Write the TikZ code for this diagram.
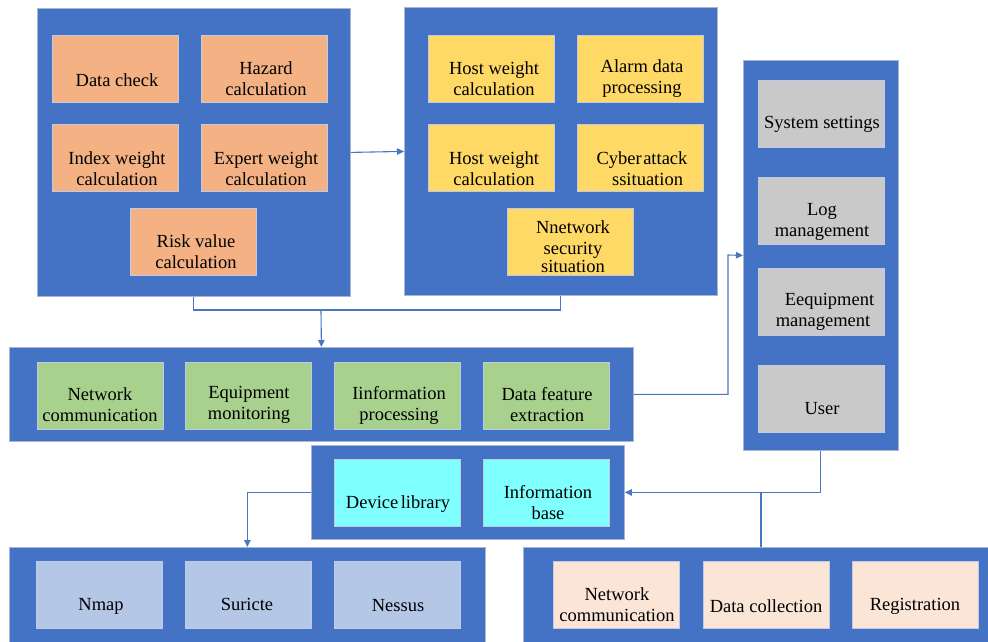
\documentclass[tikz,border=0pt]{standalone}
\usepackage{fontspec}
\setmainfont{Liberation Serif}
\newfontfamily\capfont{Liberation Serif}
\usetikzlibrary{arrows.meta}

\definecolor{panelblue}{HTML}{4472C4}
\definecolor{paneledge}{HTML}{A7B7D3}
\definecolor{boxedge}{HTML}{BFCBE3}
\definecolor{linkblue}{HTML}{4A76C6}
\definecolor{orangefill}{HTML}{F4B183}
\definecolor{yellowfill}{HTML}{FFD966}
\definecolor{greyfill}{HTML}{C9C9C9}
\definecolor{greenfill}{HTML}{A9D18E}
\definecolor{cyanfill}{HTML}{80FFFF}
\definecolor{lightbluefill}{HTML}{B4C7E7}
\definecolor{peachfill}{HTML}{FBE5D6}

\begin{document}
\begin{tikzpicture}[x=1pt,y=-1pt,
  panel/.style={draw=paneledge, fill=panelblue, line width=0.8pt, inner sep=0pt, anchor=north west},
  cell/.style={draw=boxedge, line width=0.6pt, inner sep=0pt, anchor=north west,
               minimum width=126pt, minimum height=67pt},
  caption/.style={inner sep=0pt, align=center, text=black,
                  font=\capfont\fontsize{18.5}{21}\selectfont},
  conn/.style={draw=linkblue, line width=1.1pt},
  arr/.style={conn, -{Triangle[length=7pt,width=6.5pt]}}
]
\useasboundingbox (0,0) rectangle (988,641);

% ---- outer panels ----
\node[panel, minimum width=313pt, minimum height=288pt] (pA) at (37,8) {};
\node[panel, minimum width=313pt, minimum height=288pt] (pB) at (404,7) {};
\node[panel, minimum width=155pt, minimum height=390pt] (pC) at (743,60) {};
\node[panel, minimum width=624pt, minimum height=94pt]  (pD) at (9,347) {};
\node[panel, minimum width=313pt, minimum height=94pt]  (pE) at (311,445) {};
\node[panel, minimum width=476pt, minimum height=104pt] (pF) at (9,547) {};
\node[panel, minimum width=475pt, minimum height=104pt] (pG) at (523,547) {};

% ---- risk assessment cells ----
\node[cell, fill=orangefill] (a1) at (52,35) {};
\node[cell, fill=orangefill] (a2) at (201,35) {};
\node[cell, fill=orangefill] (a3) at (52,124) {};
\node[cell, fill=orangefill] (a4) at (201,124) {};
\node[cell, fill=orangefill] (a5) at (130,208) {};
\node[caption] (ta1) at (117,80) {Data check};
\node[caption] (ta2) at (266,79) {Hazard\\calculation};
\node[caption] (ta3) at (117,169) {Index weight\\calculation};
\node[caption] (ta4) at (266,169) {Expert weight\\calculation};
\node[caption] (ta5) at (196,252) {Risk value\\calculation};

% ---- situation cells ----
\node[cell, fill=yellowfill] (b1) at (428,35) {};
\node[cell, fill=yellowfill] (b2) at (577,35) {};
\node[cell, fill=yellowfill] (b3) at (428,124) {};
\node[cell, fill=yellowfill] (b4) at (577,124) {};
\node[cell, fill=yellowfill] (b5) at (507,208) {};
\node[caption] (tb1) at (494,79) {Host weight\\calculation};
\node[caption] (tb2) at (642,79) {Alarm data\\processing};
\node[caption] (tb3) at (494,169) {Host weight\\calculation};
\node[caption] (tb4) at (642,169) {Cyber\hspace{0.08em}attack\\\hspace{0.6em}ssituation};
\node[caption] (tb5) at (573,247) {Nnetwork\\security\\[-3pt]situation};

% ---- management cells ----
\node[cell, fill=greyfill] (c1) at (758,80) {};
\node[cell, fill=greyfill] (c2) at (758,177) {};
\node[cell, fill=greyfill] (c3) at (758,268) {};
\node[cell, fill=greyfill] (c4) at (758,365) {};
\node[caption] (tc1) at (822,124) {System settings};
\node[caption] (tc2) at (822,222) {Log\\management};
\node[caption] (tc3) at (823,312) {\hspace{0.7em}Eequipment\\management};
\node[caption] (tc4) at (822,409) {User};

% ---- middle layer cells ----
\node[cell, fill=greenfill] (d1) at (37,362) {};
\node[cell, fill=greenfill] (d2) at (185,362) {};
\node[cell, fill=greenfill] (d3) at (334,362) {};
\node[cell, fill=greenfill] (d4) at (483,362) {};
\node[caption] (td1) at (100,405) {Network\\communication};
\node[caption] (td2) at (249,405) {Equipment\\monitoring};
\node[caption] (td3) at (399,405) {Iinformation\\processing};
\node[caption] (td4) at (547,405) {Data feature\\extraction};

% ---- storage cells ----
\node[cell, fill=cyanfill] (e1) at (334,459) {};
\node[cell, fill=cyanfill] (e2) at (483,459) {};
\node[caption] (te1) at (398,504) {Device\hspace{-0.12em} library};
\node[caption] (te2) at (548,503) {Information\\base};

% ---- tool cells ----
\node[cell, fill=lightbluefill] (f1) at (36,561) {};
\node[cell, fill=lightbluefill] (f2) at (185,561) {};
\node[cell, fill=lightbluefill] (f3) at (334,561) {};
\node[caption] (tf1) at (101,606) {Nmap};
\node[caption] (tf2) at (247,604) {Suricte};
\node[caption] (tf3) at (398,606) {Nessus};

% ---- collection cells ----
\node[cell, fill=peachfill] (g1) at (553,561) {};
\node[cell, fill=peachfill] (g2) at (703,561) {};
\node[cell, fill=peachfill] (g3) at (852,561) {};
\node[caption] (tg1) at (617,605) {Network\\communication};
\node[caption] (tg2) at (766,606) {Data collection};
\node[caption] (tg3) at (915,606) {Registration};

% ---- connectors ----
\coordinate (j1) at (321,310);
\coordinate (k1) at (728,255);
\coordinate (m1) at (761,492);

\draw[arr] (pA.east) -- (pB.west);
\draw[conn] (pA.south) |- (j1) -| (pB.south);
\draw[arr] (j1) -- (pD.north);
\draw[arr] (pD.east) -| (k1) -- (pC.west);
\draw[arr] (pC.south) |- (pE.east);
\draw[conn] (m1) -- (m1 |- pG.north);
\draw[arr] (pE.west) -| (pF.north);
\end{tikzpicture}
\end{document}
